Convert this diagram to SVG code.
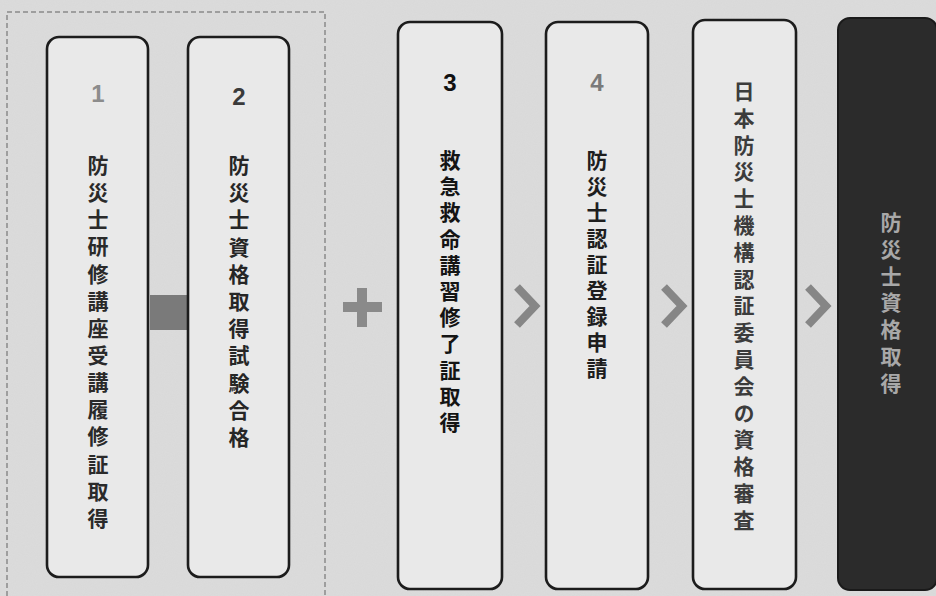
<svg xmlns="http://www.w3.org/2000/svg" width="936" height="596" viewBox="0 0 936 596">
<style>
.bg{fill:#dcdcdc}
.box{fill:#e9e9e9;stroke:#1c1c1c;stroke-width:2.6}
.dark{fill:#2b2b2b;stroke:#1a1a1a;stroke-width:2}
.v{font-family:"Noto Sans CJK JP","Noto Sans",sans-serif;font-size:21px;font-weight:700;writing-mode:vertical-rl;text-anchor:start}
.num{font-family:"Liberation Sans","Noto Sans",sans-serif;font-size:24px;font-weight:700;text-anchor:middle;dominant-baseline:central}
.chev{fill:none;stroke:#868686;stroke-width:8;stroke-linejoin:miter}
</style>
<defs>
<filter id="grain" x="0" y="0" width="100%" height="100%">
<feTurbulence type="fractalNoise" baseFrequency="0.9" numOctaves="2" seed="3" result="n"/>
<feColorMatrix type="matrix" values="0 0 0 0 0.5  0 0 0 0 0.5  0 0 0 0 0.5  0 0 0 0.12 0"/>
</filter>
</defs>
<rect class="bg" x="0" y="0" width="936" height="596"/>
<rect x="0" y="0" width="936" height="596" filter="url(#grain)"/>
<rect x="7" y="12" width="318" height="590" fill="none" stroke="#8a8a8a" stroke-width="1.5" stroke-dasharray="5 3"/>

<g id="connectors">
<rect x="150" y="295" width="38" height="35" fill="#7a7a7a"/>
<g id="plus" fill="#8a8a8a">
<rect x="343" y="302" width="39" height="10"/>
<rect x="357" y="288" width="10" height="39"/>
</g>
<polyline class="chev" points="517,287 535,306 517,325"/>
<polyline class="chev" points="664,287 682,306 664,325"/>
<polyline class="chev" points="808,287 826,306 808,325" stroke="#8e8e8e"/>
</g>

<g id="node1">
<rect class="box" x="47" y="37" width="101" height="540" rx="12"/>
<text class="num" x="98" y="93" fill="#8c8c8c">1</text>
<text class="v" x="98" y="154.5" fill="#2a2a2a" letter-spacing="6.15">防災士研修講座受講履修証取得</text>
</g>

<g id="node2">
<rect class="box" x="188" y="37" width="101" height="540" rx="12"/>
<text class="num" x="239" y="96" fill="#3a3a3a">2</text>
<text class="v" x="239" y="154.5" fill="#262626" letter-spacing="6.2">防災士資格取得試験合格</text>
</g>

<g id="node3">
<rect class="box" x="398" y="22" width="104" height="567" rx="12"/>
<text class="num" x="450" y="82" fill="#111">3</text>
<text class="v" x="450" y="149.5" fill="#141414" letter-spacing="5.2">救急救命講習修了証取得</text>
</g>

<g id="node4">
<rect class="box" x="546" y="22" width="102" height="567" rx="12"/>
<text class="num" x="597" y="82" fill="#7a7a7a">4</text>
<text class="v" x="597" y="149.5" fill="#1e1e1e" letter-spacing="5">防災士認証登録申請</text>
</g>

<g id="node5">
<rect class="box" x="693" y="20" width="103" height="569" rx="12"/>
<text class="v" x="744" y="80.5" fill="#3c3c3c" letter-spacing="5.8">日本防災士機構認証委員会の資格審査</text>
</g>

<g id="node6">
<rect class="dark" x="838" y="18" width="99" height="572" rx="12"/>
<text class="v" x="891" y="211.5" fill="#a8a8a8" font-weight="500" letter-spacing="5.8">防災士資格取得</text>
</g>
</svg>
